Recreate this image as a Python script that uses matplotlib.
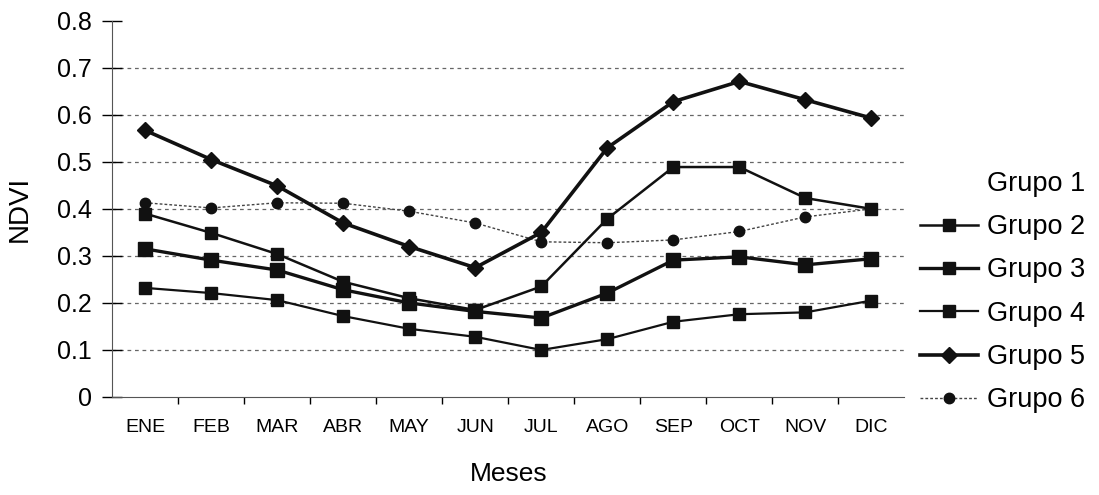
import matplotlib
matplotlib.use("Agg")
import matplotlib.pyplot as plt
from matplotlib.lines import Line2D

plt.rcParams["font.family"] = ["Liberation Sans", "DejaVu Sans"]

meses = ["ENE", "FEB", "MAR", "ABR", "MAY", "JUN", "JUL", "AGO", "SEP", "OCT", "NOV", "DIC"]

grupo2 = [0.39, 0.349, 0.304, 0.245, 0.21, 0.185, 0.235, 0.379, 0.489, 0.489, 0.423, 0.40]
grupo3 = [0.315, 0.291, 0.270, 0.228, 0.20, 0.182, 0.168, 0.221, 0.291, 0.298, 0.281, 0.294]
grupo4 = [0.232, 0.221, 0.206, 0.172, 0.145, 0.128, 0.10, 0.123, 0.16, 0.176, 0.18, 0.205]
grupo5 = [0.567, 0.505, 0.449, 0.370, 0.32, 0.275, 0.35, 0.53, 0.628, 0.671, 0.632, 0.593]
grupo6 = [0.413, 0.402, 0.413, 0.412, 0.395, 0.37, 0.33, 0.328, 0.334, 0.352, 0.383, 0.40]

y_ticks = [0, 0.1, 0.2, 0.3, 0.4, 0.5, 0.6, 0.7, 0.8]

fig = plt.figure(figsize=(10.99, 4.95), dpi=100)
ax = fig.add_axes([0.102, 0.198, 0.721, 0.760])

x = list(range(len(meses)))

# horizontal dashed grid
for v in y_ticks[1:-1]:
    ax.axhline(v, color="#666666", linestyle=(0, (3, 3)), linewidth=0.9, zorder=1)

ax.plot(x, grupo6, color="#444444", linestyle=(0, (2, 1.5)), linewidth=1.0,
        marker="o", markersize=7.5, markerfacecolor="#111111", markeredgecolor="#111111", zorder=3)
ax.plot(x, grupo4, color="#111111", linewidth=1.6, marker="s", markersize=9, zorder=3)
ax.plot(x, grupo3, color="#111111", linewidth=2.4, marker="s", markersize=10, zorder=3)
ax.plot(x, grupo2, color="#111111", linewidth=1.8, marker="s", markersize=9, zorder=3)
ax.plot(x, grupo5, color="#111111", linewidth=2.6, marker="D", markersize=8, zorder=4)

ax.set_xlim(-0.5, len(meses) - 0.5)
ax.set_ylim(0, 0.8)
ax.set_yticks(y_ticks)
ax.set_yticklabels(["0" if v == 0 else f"{v:.1f}" for v in y_ticks], fontsize=18)
ax.tick_params(axis="y", direction="inout", length=14, width=1, pad=7.5)

ax.set_xticks(x)
ax.set_xticklabels(meses, fontsize=14)
ax.set_xticks([i + 0.5 for i in x[:-1]], minor=True)
ax.tick_params(axis="x", which="major", length=0, pad=16)
ax.tick_params(axis="x", which="minor", direction="out", length=5, width=1)

ax.spines["top"].set_visible(False)
ax.spines["right"].set_visible(False)
ax.spines["left"].set_color("#555555")
ax.spines["bottom"].set_color("#555555")

ax.set_ylabel("NDVI", fontsize=20)
ax.yaxis.set_label_coords(-0.0996, 0.5)
ax.set_xlabel("Meses", fontsize=19)
ax.xaxis.set_label_coords(0.5, -0.172)

handles = [
    Line2D([], [], color="none"),
    Line2D([], [], color="#111111", linewidth=1.8, marker="s", markersize=8),
    Line2D([], [], color="#111111", linewidth=2.4, marker="s", markersize=9),
    Line2D([], [], color="#111111", linewidth=1.6, marker="s", markersize=8),
    Line2D([], [], color="#111111", linewidth=2.6, marker="D", markersize=8),
    Line2D([], [], color="#444444", linestyle=(0, (2, 1.5)), linewidth=1.0,
           marker="o", markersize=7.5, markerfacecolor="#111111", markeredgecolor="#111111"),
]
labels = ["Grupo 1", "Grupo 2", "Grupo 3", "Grupo 4", "Grupo 5", "Grupo 6"]
fig.legend(handles, labels, loc="center left", bbox_to_anchor=(0.837, 0.41),
           frameon=False, fontsize=19.5, handlelength=2.15, handletextpad=0.33,
           labelspacing=0.64, borderaxespad=0, borderpad=0)

fig.savefig("out.png", dpi=100)
